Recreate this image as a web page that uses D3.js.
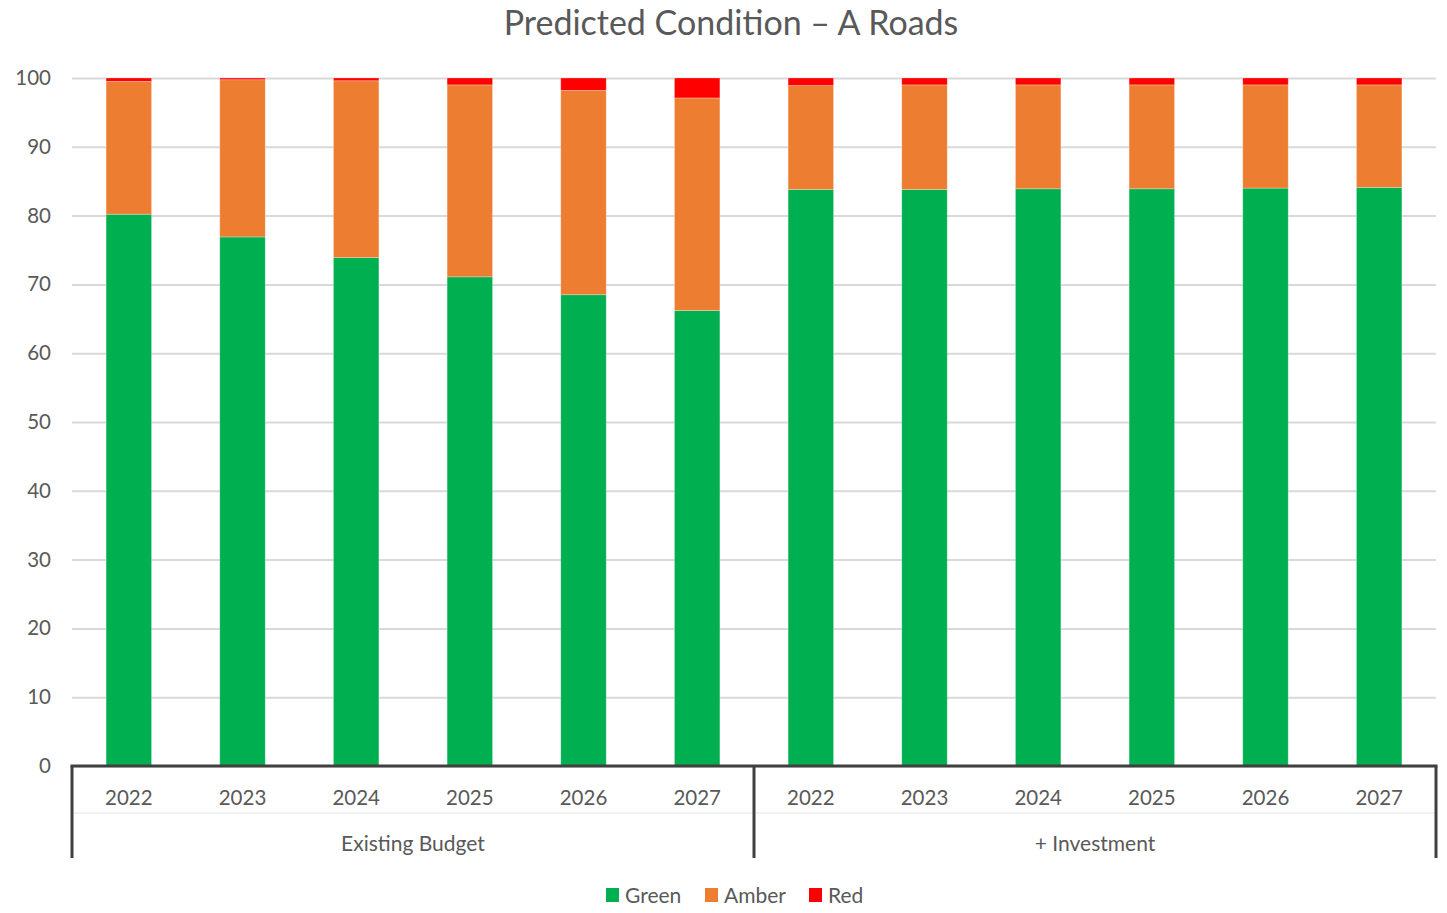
<!DOCTYPE html>
<html>
<head>
<meta charset="utf-8">
<script src="https://cdn.jsdelivr.net/npm/d3@7"></script>
<style>
  body { margin: 0; background: #fff; }
  svg text { font-family: Lato, "Open Sans", sans-serif; fill: #595959; }
</style>
</head>
<body>
<div class="chart"></div>
<script>
"use strict";

const groups = ["Existing Budget", "+ Investment"];
const years = ["2022", "2023", "2024", "2025", "2026", "2027"];
const seriesNames = ["Green", "Amber", "Red"];
const colors = ["#00b050", "#ed7d31", "#ff0000"];

const green = [80.2, 76.9, 73.9, 71.1, 68.5, 66.2, 83.8, 83.8, 83.9, 83.9, 84.0, 84.1];
const amber = [19.3, 22.85, 25.7, 27.9, 29.7, 30.9, 15.1, 15.2, 15.1, 15.1, 15.0, 14.9];
const red = [0.5, 0.25, 0.4, 1.0, 1.8, 2.9, 1.1, 1.0, 1.0, 1.0, 1.0, 1.0];
const yTicks = [0, 10, 20, 30, 40, 50, 60, 70, 80, 90, 100];

const W = 1447, H = 913;
const margin = { top: 78, right: 11, bottom: 147, left: 72 };
const width = W - margin.left - margin.right;
const height = H - margin.top - margin.bottom;

const rows = [];
groups.forEach((g, gi) => {
  years.forEach((yr, yi) => {
    const i = gi * years.length + yi;
    rows.push({ key: g + "|" + yr, group: g, year: yr, Green: green[i], Amber: amber[i], Red: red[i] });
  });
});

const svg = d3.select(".chart").append("svg")
  .attr("width", W).attr("height", H);

svg.append("text")
  .attr("x", 731).attr("y", 35)
  .attr("text-anchor", "middle")
  .attr("font-size", 34)
  .text("Predicted Condition \u2013 A Roads");

const g = svg.append("g")
  .attr("transform", `translate(${margin.left},${margin.top})`);

const x = d3.scaleBand()
  .domain(rows.map(d => d.key))
  .range([0, width])
  .paddingInner(0.6)
  .paddingOuter(0.3);

const y = d3.scaleLinear().domain([0, 100]).range([height, 0]);

// grid lines
const yAxis = d3.axisLeft(y).tickValues(yTicks).tickSize(-width).tickPadding(21);
g.append("g")
  .call(yAxis)
  .call(a => a.select(".domain").remove())
  .call(a => a.selectAll(".tick line").attr("stroke", "#d9d9d9").attr("stroke-width", 2))
  .call(a => a.selectAll(".tick text").attr("font-size", 20.5).attr("fill", "#595959"));

// stacked bars
const stack = d3.stack().keys(seriesNames);
const layers = stack(rows);

g.selectAll(".layer")
  .data(layers)
  .join("g")
  .attr("class", "layer")
  .attr("fill", (d, i) => colors[i])
  .selectAll("rect")
  .data(d => d)
  .join("rect")
  .attr("x", d => x(d.data.key))
  .attr("width", x.bandwidth())
  .attr("y", d => y(d[1]))
  .attr("height", d => y(d[0]) - y(d[1]))
  .attr("stroke", "#ffffff")
  .attr("stroke-opacity", 0.35)
  .attr("stroke-width", 0.8);

// category axis
const axisG = g.append("g").attr("transform", `translate(0,${height})`);
const groupW = width / groups.length;

axisG.append("line")
  .attr("x1", 0).attr("x2", width)
  .attr("y1", 47).attr("y2", 47)
  .attr("stroke", "#e6e6e6").attr("stroke-width", 1);

axisG.append("line")
  .attr("x1", -1.5).attr("x2", width + 1.5)
  .attr("y1", 0).attr("y2", 0)
  .attr("stroke", "#404040").attr("stroke-width", 3);

d3.range(groups.length + 1).forEach(i => {
  axisG.append("line")
    .attr("x1", i * groupW).attr("x2", i * groupW)
    .attr("y1", 0).attr("y2", 92)
    .attr("stroke", "#404040").attr("stroke-width", 3);
});

axisG.selectAll(".yr")
  .data(rows)
  .join("text")
  .attr("class", "yr")
  .attr("x", d => x(d.key) + x.bandwidth() / 2)
  .attr("y", 39)
  .attr("text-anchor", "middle")
  .attr("font-size", 20.5)
  .text(d => d.year);

axisG.selectAll(".grp")
  .data(groups)
  .join("text")
  .attr("class", "grp")
  .attr("x", (d, i) => groupW * i + groupW / 2)
  .attr("y", 85)
  .attr("text-anchor", "middle")
  .attr("font-size", 21)
  .text(d => d);

// legend
const legend = svg.append("g").attr("transform", "translate(606,888)");
const legX = [0, 99, 203];
seriesNames.forEach((s, i) => {
  const item = legend.append("g").attr("transform", `translate(${legX[i]},0)`);
  item.append("rect").attr("width", 13).attr("height", 14).attr("fill", colors[i]);
  item.append("text").attr("x", 19).attr("y", 15).attr("font-size", 21).text(s);
});
</script>
</body>
</html>
